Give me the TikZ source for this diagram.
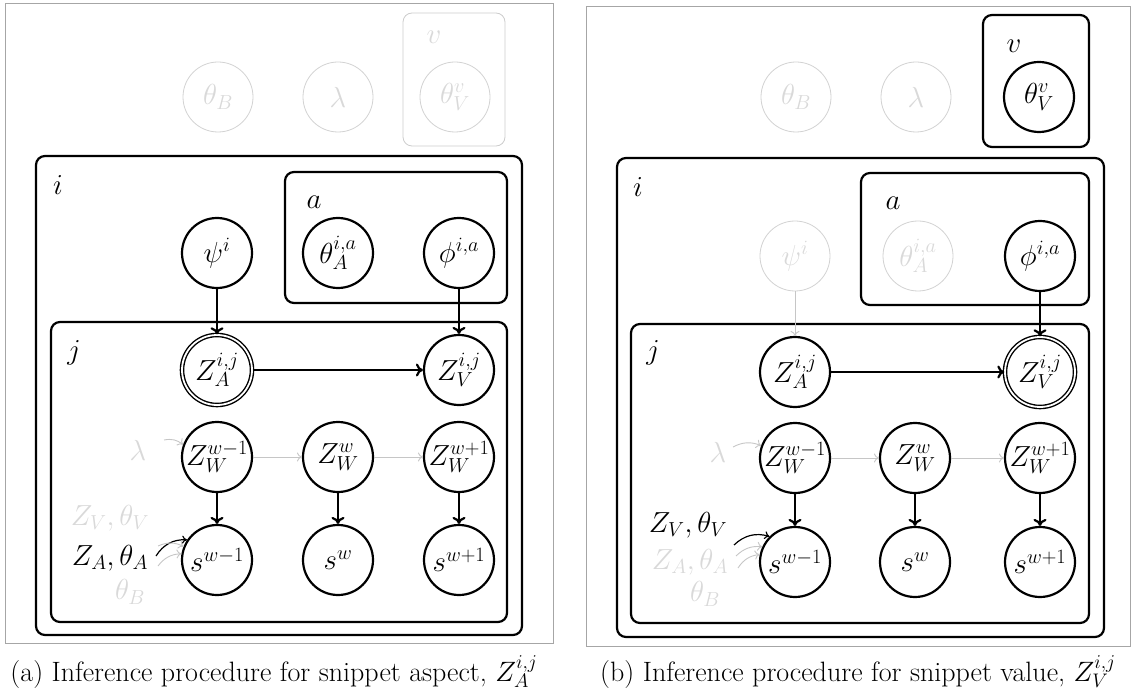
\RequirePackage{fix-cm}
\documentclass[tikz,border=0pt]{standalone}
\usetikzlibrary{arrows.meta}
\begin{document}
\begin{tikzpicture}[x=1pt,y=-1pt,
  every node/.style={font=\fontsize{29}{34}\selectfont},
  var/.style={circle,draw,line width=2.2pt,minimum size=70pt,inner sep=0pt},
  obs/.style={var,double,line width=1.4pt,double distance=1.8pt},
  ghost/.style={circle,draw=gray!35,line width=0.8pt,minimum size=70pt,inner sep=0pt,text=gray!30},
  plate/.style={draw,rounded corners=9pt,line width=2.2pt,inner sep=0pt},
  ghostplate/.style={draw=gray!40,rounded corners=9pt,line width=0.8pt,inner sep=0pt},
  frame/.style={draw=gray!70,line width=0.8pt,inner sep=0pt},
  lab/.style={inner sep=0pt},
  ghostlab/.style={inner sep=0pt,text=gray!30},
  arr/.style={-{To[length=7pt,width=13pt]},line width=2.2pt},
  ghostarr/.style={-{To[length=5pt,width=9pt]},draw=gray!45,line width=0.9pt},
  capt/.style={inner sep=0pt,font=\fontsize{28}{33}\selectfont},
]
\useasboundingbox (0,0) rectangle (1132,700);

% ---------------- panel (a) ----------------
\node[frame,minimum width=548pt,minimum height=640pt] (frA) at (279,323) {};
\node[ghostplate,minimum width=102pt,minimum height=133pt] (vpA) at (454,79.5) {};
\node[ghostlab] (vlA) at (434,37) {$v$};
\node[ghost] (tBA) at (218,97) {$\theta_B$};
\node[ghost] (lmA) at (338,97) {$\lambda$};
\node[ghost] (tVA) at (455,97) {$\theta_V^v$};

\node[plate,minimum width=486pt,minimum height=479pt] (ipA) at (279,395.5) {};
\node[lab] (ilA) at (58,185) {$i$};
\node[plate,minimum width=222pt,minimum height=131pt] (apA) at (396,237.5) {};
\node[lab] (alA) at (314,202) {$a$};
\node[var] (psiA) at (217,253) {$\psi^i$};
\node[var] (thA) at (338,253) {$\theta_A^{i,a}$};
\node[var] (phiA) at (459,253) {$\phi^{i,a}$};

\node[plate,minimum width=456pt,minimum height=300pt] (jpA) at (279,472) {};
\node[lab] (jlA) at (74,353) {$j$};
\node[obs] (zaA) at (217,370) {$Z_A^{i,j}$};
\node[var] (zvA) at (459,370) {$Z_V^{i,j}$};
\node[var] (w1A) at (217,457) {$Z_W^{w-1}$};
\node[var] (w2A) at (338,457) {$Z_W^{w}$};
\node[var] (w3A) at (459,457) {$Z_W^{w+1}$};
\node[var] (s1A) at (217,560) {$s^{w-1}$};
\node[var] (s2A) at (338,560) {$s^{w}$};
\node[var] (s3A) at (459,560) {$s^{w+1}$};

\node[lab] (zlA) at (110,558) {$Z_A,\theta_A$};
\node[ghostlab] (lgA) at (138,450) {$\lambda$};
\node[ghostlab] (zgA) at (110,518) {$Z_V,\theta_V$};
\node[ghostlab] (tgA) at (130,592) {$\theta_B$};
\coordinate (caA) at (156,556);
\coordinate (cgA1) at (164,440);
\coordinate (cgA2) at (158,546);
\coordinate (cgA3) at (158,566);

\draw[arr] (psiA) -- (zaA);
\draw[arr] (phiA) -- (zvA);
\draw[arr] (zaA) -- (zvA);
\draw[ghostarr] (w1A) -- (w2A);
\draw[ghostarr] (w2A) -- (w3A);
\draw[arr] (w1A) -- (s1A);
\draw[arr] (w2A) -- (s2A);
\draw[arr] (w3A) -- (s3A);
\draw[-{To[length=5pt,width=8pt]},line width=1.2pt] (caA) to[bend left=30] (s1A.146);
\draw[ghostarr] (cgA1) to[bend left=25] (w1A.160);
\draw[ghostarr] (cgA2) to[bend left=25] (s1A.158);
\draw[ghostarr] (cgA3) to[bend left=25] (s1A.170);

\node[capt] (capA) at (274,672) {(a) Inference procedure for snippet aspect, $Z_A^{i,j}$};

% ---------------- panel (b) ----------------
\node[frame,minimum width=544pt,minimum height=640pt] (frB) at (858,326) {};
\node[plate,minimum width=106pt,minimum height=132pt] (vpB) at (1036,81) {};
\node[lab] (vlB) at (1014,46) {$v$};
\node[var] (tVB) at (1039,97) {$\theta_V^v$};
\node[ghost] (tBB) at (796,97) {$\theta_B$};
\node[ghost] (lmB) at (916,97) {$\lambda$};

\node[plate,minimum width=487pt,minimum height=479pt] (ipB) at (860.5,397.5) {};
\node[lab] (ilB) at (638,187) {$i$};
\node[plate,minimum width=228pt,minimum height=132pt] (apB) at (975,239) {};
\node[lab] (alB) at (893,203) {$a$};
\node[ghost] (psiB) at (795,256) {$\psi^i$};
\node[ghost] (thB) at (918,256) {$\theta_A^{i,a}$};
\node[var] (phiB) at (1040,256) {$\phi^{i,a}$};

\node[plate,minimum width=458pt,minimum height=299pt] (jpB) at (860,473.5) {};
\node[lab] (jlB) at (653,353) {$j$};
\node[var] (zaB) at (795,372) {$Z_A^{i,j}$};
\node[obs] (zvB) at (1040,372) {$Z_V^{i,j}$};
\node[var] (w1B) at (795,458) {$Z_W^{w-1}$};
\node[var] (w2B) at (915,458) {$Z_W^{w}$};
\node[var] (w3B) at (1040,458) {$Z_W^{w+1}$};
\node[var] (s1B) at (795,562) {$s^{w-1}$};
\node[var] (s2B) at (915,562) {$s^{w}$};
\node[var] (s3B) at (1040,562) {$s^{w+1}$};

\node[lab] (zlB) at (688,525) {$Z_V,\theta_V$};
\node[ghostlab] (lgB) at (718,452) {$\lambda$};
\node[ghostlab] (zgB) at (690,562) {$Z_A,\theta_A$};
\node[ghostlab] (tgB) at (705,594) {$\theta_B$};
\coordinate (caB) at (734,545);
\coordinate (cgB1) at (733,447);
\coordinate (cgB2) at (736,556);
\coordinate (cgB3) at (738,568);

\draw[ghostarr] (psiB) -- (zaB);
\draw[arr] (phiB) -- (zvB);
\draw[arr] (zaB) -- (zvB);
\draw[ghostarr] (w1B) -- (w2B);
\draw[ghostarr] (w2B) -- (w3B);
\draw[arr] (w1B) -- (s1B);
\draw[arr] (w2B) -- (s2B);
\draw[arr] (w3B) -- (s3B);
\draw[-{To[length=5pt,width=8pt]},line width=1.2pt] (caB) to[bend left=30] (s1B.135);
\draw[ghostarr] (cgB1) to[bend left=25] (w1B.160);
\draw[ghostarr] (cgB2) to[bend left=25] (s1B.155);
\draw[ghostarr] (cgB3) to[bend left=25] (s1B.168);

\node[capt] (capB) at (858,672) {(b) Inference procedure for snippet value, $Z_V^{i,j}$};
\end{tikzpicture}
\end{document}
